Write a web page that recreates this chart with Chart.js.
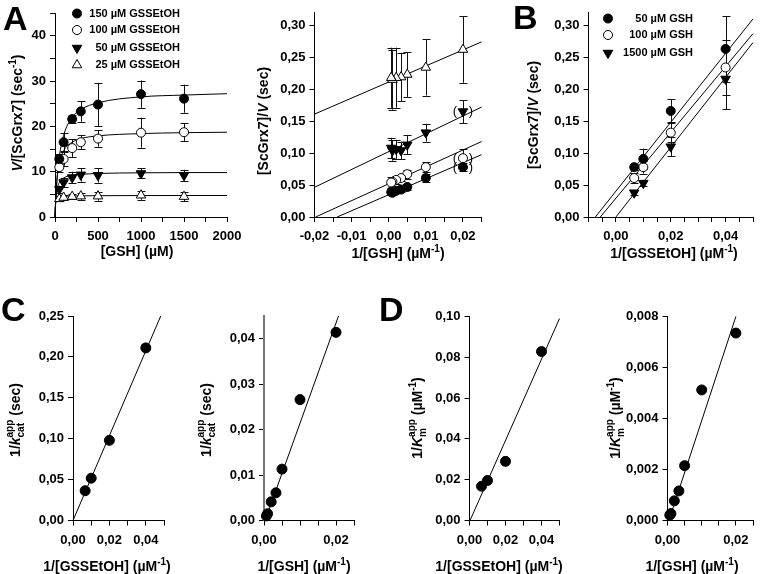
<!DOCTYPE html>
<html>
<head>
<meta charset="utf-8">
<script src="https://cdn.jsdelivr.net/npm/chart.js@4.4.1/dist/chart.umd.min.js"></script>
<style>
  html, body { margin: 0; padding: 0; background: #fff; }
  #wrap { position: relative; width: 760px; height: 574px; overflow: hidden; }
  #wrap canvas { position: absolute; left: 0; top: 0; }
</style>
</head>
<body>
<div id="wrap"></div>
<script>
// ---- panel A, left: rate vs [GSH] ----
const gshConc = [50, 100, 200, 300, 500, 1000, 1500];
const v150 = [12.8, 16.5, 21.6, 23.3, 24.8, 27.1, 26.1];
const v150Err = [1.0, 2.0, 0.8, 2.3, 4.8, 3.0, 3.1];
const v100 = [11.0, 12.8, 15.2, 16.5, 17.3, 18.6, 18.7];
const v100Err = [1.0, 1.5, 2.0, 1.5, 1.8, 3.3, 2.0];
const v50 = [6.1, 7.6, 8.7, 9.3, 9.2, 9.6, 9.2];
const v50Err = [0.8, 1.0, 1.3, 1.5, 1.6, 1.1, 1.2];
const v25 = [4.0, 4.3, 4.5, 4.6, 4.6, 4.8, 4.5];
const v25Err = [0.5, 0.5, 0.6, 0.8, 1.0, 1.0, 1.0];

// fitted curves
const curveX = [0, 5, 10, 25, 50, 100, 200, 300, 500, 1000, 1500, 2000];
const curve150 = [0, 2.3, 4.3, 8.8, 13.3, 18.0, 22.0, 23.7, 25.2, 26.5, 26.9, 27.2];
const curve100 = [0, 2.6, 4.7, 8.6, 11.9, 14.6, 16.5, 17.3, 17.9, 18.4, 18.6, 18.7];
const curve50 = [0, 2.5, 4.0, 6.2, 7.6, 8.6, 9.2, 9.4, 9.6, 9.75, 9.8, 9.8];
const curve25 = [0, 2.4, 3.2, 3.95, 4.3, 4.52, 4.63, 4.67, 4.7, 4.73, 4.74, 4.74];

// ---- panel A, right: double reciprocal vs 1/[GSH] ----
const invGsh = [0.02, 0.01, 0.005, 0.00333, 0.002, 0.001, 0.000667];
const lb150 = [0.078, 0.061, 0.047, 0.043, 0.041, 0.038, 0.039];
const lb150Err = [0.006, 0.006, 0.004, 0.004, 0.004, 0.004, 0.004];
const lb100 = [0.092, 0.078, 0.067, 0.061, 0.058, 0.055, 0.054];
const lb100Err = [0.014, 0.008, 0.007, 0.005, 0.006, 0.008, 0.008];
const lb50 = [0.165, 0.132, 0.113, 0.104, 0.106, 0.104, 0.108];
const lb50Err = [0.018, 0.014, 0.015, 0.014, 0.015, 0.016, 0.016];
const lb25 = [0.262, 0.234, 0.223, 0.219, 0.218, 0.215, 0.218];
const lb25Err = [0.052, 0.044, 0.035, 0.038, 0.047, 0.047, 0.047];
const lbFit150 = [[-0.0139, 0], [0.025, 0.0975]];
const lbFit100 = [[-0.0197, 0], [0.025, 0.118]];
const lbFit50 = [[-0.02, 0.0465], [0.025, 0.172]];
const lbFit25 = [[-0.02, 0.161], [0.025, 0.274]];

// ---- panel B: vs 1/[GSSEtOH] ----
const invGssetoh = [0.00667, 0.01, 0.02, 0.04];
const b50 = [0.078, 0.091, 0.166, 0.263];
const b50Err = [0.005, 0.016, 0.018, 0.051];
const b100 = [0.061, 0.078, 0.132, 0.234];
const b100Err = [0.008, 0.010, 0.015, 0.043];
const b1500 = [0.038, 0.053, 0.110, 0.216];
const b1500Err = [0.004, 0.005, 0.015, 0.047];
const bFit50 = [[-0.0075, 0], [0.05, 0.31]];
const bFit100 = [[-0.0057, 0], [0.05, 0.287]];
const bFit1500 = [[0, 0], [0.05, 0.273]];

// ---- panels C and D: secondary plots ----
const invGshAsc = [0.000667, 0.001, 0.002, 0.00333, 0.005, 0.01, 0.02];
const c1Y = [0.0364, 0.0517, 0.098, 0.211];
const c1Fit = [[0, 0], [0.0482, 0.25]];
const c2Y = [0.001, 0.0015, 0.0041, 0.0061, 0.0113, 0.0266, 0.0414];
const c2Fit = [[0.0003, 0], [0.0207, 0.045]];
const d1Y = [0.0168, 0.0196, 0.029, 0.0828];
const d1Fit = [[0.0003, 0], [0.05, 0.099]];
const d2Y = [0.00021, 0.00027, 0.00077, 0.00116, 0.00215, 0.00512, 0.00735];
const d2Fit = [[0.0004, 0], [0.02, 0.008]];

const FONT = '"Liberation Sans", Arial, Helvetica, sans-serif';
const TICK_SIZE = 13;
const TITLE_SIZE = 14;
const wrap = document.getElementById('wrap');

function isMult(v, m) {
    return Math.abs(v / m - Math.round(v / m)) < 1e-6;
}

function fmt(dec, every, nonNeg) {
    return function (v) {
        if (!isMult(v, every)) return '';
        if (nonNeg && v < -1e-9) return '';
        if (Math.abs(v) < 1e-12) v = 0;
        return v.toFixed(dec).replace('.', ',');
    };
}

function pts(xs, ys, style, r) {
    const hollow = style === 'open' || style === 'up';
    return {
        data: xs.map((x, i) => ({ x: x, y: ys[i] })),
        pointStyle: (style === 'down' || style === 'up') ? 'triangle' : 'circle',
        rotation: style === 'down' ? 180 : 0,
        pointRadius: r,
        pointBackgroundColor: hollow ? '#fff' : '#000',
        pointBorderColor: '#000',
        pointBorderWidth: 1,
        showLine: false,
        order: 1,
        clip: false
    };
}

function fit(pairs) {
    return {
        data: pairs.map(p => ({ x: p[0], y: p[1] })),
        showLine: true,
        pointRadius: 0,
        borderColor: '#000',
        borderWidth: 1,
        order: 2,
        clip: false
    };
}

function curve(xs, ys) {
    const ds = fit(xs.map((x, i) => [x, ys[i]]));
    ds.cubicInterpolationMode = 'monotone';
    return ds;
}

function errs(xs, ys, es) {
    return { xs: xs, ys: ys, es: es };
}

function font(size, italic, bold) {
    return (italic ? 'italic ' : '') + (bold === false ? '' : 'bold ') + size + 'px ' + FONT;
}

// text with sub/superscripts, centred on (cx, cy)
function drawRich(ctx, parts, cx, cy, size, vertical) {
    const small = Math.round(size * 0.7);
    ctx.save();
    ctx.translate(cx, cy);
    if (vertical) ctx.rotate(-Math.PI / 2);
    const widths = parts.map(p => {
        if (p.stack) {
            ctx.font = font(small);
            return Math.max(ctx.measureText(p.stack[0]).width, ctx.measureText(p.stack[1]).width);
        }
        ctx.font = p.s ? font(small, p.i) : font(size, p.i);
        return ctx.measureText(p.t).width;
    });
    const total = widths.reduce((a, b) => a + b, 0);
    let x = -total / 2;
    const base = size * 0.36;
    ctx.fillStyle = '#000';
    ctx.textAlign = 'left';
    ctx.textBaseline = 'alphabetic';
    parts.forEach((p, k) => {
        if (p.stack) {
            ctx.font = font(small);
            ctx.fillText(p.stack[0], x, base + size * 0.28);
            ctx.fillText(p.stack[1], x, base - size * 0.52);
        } else if (p.s === 'sup') {
            ctx.font = font(small, p.i);
            ctx.fillText(p.t, x, base - size * 0.45);
        } else if (p.s === 'sub') {
            ctx.font = font(small, p.i);
            ctx.fillText(p.t, x, base + size * 0.28);
        } else {
            ctx.font = font(size, p.i);
            ctx.fillText(p.t, x, base);
        }
        x += widths[k];
    });
    ctx.restore();
}

function legendMarker(ctx, style, x, y, r) {
    ctx.save();
    ctx.lineWidth = 1;
    ctx.strokeStyle = '#000';
    ctx.fillStyle = (style === 'open' || style === 'up') ? '#fff' : '#000';
    ctx.beginPath();
    if (style === 'filled' || style === 'open') {
        ctx.arc(x, y, r, 0, Math.PI * 2);
    } else {
        const s = style === 'down' ? -1 : 1;
        ctx.moveTo(x, y - s * r);
        ctx.lineTo(x + r * 0.866, y + s * r / 2);
        ctx.lineTo(x - r * 0.866, y + s * r / 2);
        ctx.closePath();
    }
    ctx.fill();
    ctx.stroke();
    ctx.restore();
}

let panelId = 0;

function extras(cfg) {
    panelId += 1;
    return {
        id: 'extras' + panelId,
        beforeDatasetsDraw(chart) {
            const ctx = chart.ctx;
            const xs = chart.scales.x, ys = chart.scales.y;
            ctx.save();
            ctx.strokeStyle = '#111';
            ctx.lineWidth = 1;
            (cfg.errors || []).forEach(e => {
                e.xs.forEach((xv, i) => {
                    const px = Math.round(xs.getPixelForValue(xv)) + 0.5;
                    const top = ys.getPixelForValue(e.ys[i] + e.es[i]);
                    const bot = ys.getPixelForValue(e.ys[i] - e.es[i]);
                    ctx.beginPath();
                    ctx.moveTo(px, top); ctx.lineTo(px, bot);
                    ctx.moveTo(px - 4, Math.round(top) + 0.5); ctx.lineTo(px + 4, Math.round(top) + 0.5);
                    ctx.moveTo(px - 4, Math.round(bot) + 0.5); ctx.lineTo(px + 4, Math.round(bot) + 0.5);
                    ctx.stroke();
                });
            });
            ctx.restore();
        },
        afterDraw(chart) {
            const ctx = chart.ctx;
            const xs = chart.scales.x, ys = chart.scales.y;
            ctx.save();
            (cfg.parens || []).forEach(p => {
                const px = xs.getPixelForValue(p[0]);
                const py = ys.getPixelForValue(p[1]);
                ctx.font = font(13, false, false);
                ctx.fillStyle = '#000';
                ctx.textAlign = 'center';
                ctx.textBaseline = 'middle';
                ctx.fillText('(', px - 8, py);
                ctx.fillText(')', px + 8, py);
            });
            (cfg.legend || []).forEach(l => {
                legendMarker(ctx, l.style, l.mx, l.y, l.r);
                ctx.font = font(11);
                ctx.fillStyle = '#000';
                ctx.textAlign = 'right';
                ctx.textBaseline = 'middle';
                ctx.fillText(l.text, l.tx, l.y);
            });
            (cfg.titles || []).forEach(t => drawRich(ctx, t.parts, t.x, t.y, TITLE_SIZE, t.vertical));
            if (cfg.letter) {
                ctx.font = font(34);
                ctx.fillStyle = '#000';
                ctx.textAlign = 'left';
                ctx.textBaseline = 'alphabetic';
                ctx.fillText(cfg.letter[0], cfg.letter[1], cfg.letter[2]);
            }
            ctx.restore();
        }
    };
}

function axis(min, max, step, label, extra) {
    return Object.assign({
        type: 'linear',
        min: min,
        max: max,
        ticks: {
            stepSize: step,
            autoSkip: false,
            includeBounds: false,
            maxTicksLimit: 200,
            maxRotation: 0,
            callback: label,
            color: '#000',
            font: { family: FONT, size: TICK_SIZE, weight: 'bold' }
        },
        grid: { drawOnChartArea: false, drawTicks: true, tickLength: 5, color: '#000', lineWidth: 1 },
        border: { display: true, color: '#000', width: 1 }
    }, extra || {});
}

function makePanel(cfg) {
    const canvas = document.createElement('canvas');
    canvas.width = 760;
    canvas.height = 574;
    wrap.appendChild(canvas);
    const a = cfg.area;
    const YW = 50, XH = 40;
    const x = cfg.x;
    const y = cfg.y;
    x.afterFit = s => { s.height = XH; };
    y.afterFit = s => { s.width = YW; };
    x.ticks.padding = 7;
    y.ticks.padding = 4;
    new Chart(canvas, {
        type: 'scatter',
        data: { datasets: cfg.datasets },
        options: {
            responsive: false,
            animation: false,
            devicePixelRatio: 1,
            events: [],
            layout: { padding: { left: a[0] - YW, top: a[1], right: 760 - a[2], bottom: 574 - a[3] - XH } },
            plugins: { legend: { display: false }, tooltip: { enabled: false } },
            scales: { x: x, y: y }
        },
        plugins: [extras(cfg)]
    });
}

const supM1 = [{ t: '(µM' }, { t: '-1', s: 'sup' }, { t: ')' }];

// A, left
makePanel({
    area: [55, 13, 227, 217],
    x: axis(0, 2000, 250, v => isMult(v, 500) ? String(v) : ''),
    y: axis(0, 45, 5, v => isMult(v, 10) ? String(v) : ''),
    datasets: [
        pts(gshConc, v150, 'filled', 4.5),
        pts(gshConc, v100, 'open', 4.5),
        pts(gshConc, v50, 'down', 5.5),
        pts(gshConc, v25, 'up', 5.5),
        curve(curveX, curve150),
        curve(curveX, curve100),
        curve(curveX, curve50),
        curve(curveX, curve25)
    ],
    errors: [
        errs(gshConc, v150, v150Err),
        errs(gshConc, v100, v100Err),
        errs(gshConc, v50, v50Err),
        errs(gshConc, v25, v25Err)
    ],
    legend: [
        { style: 'filled', text: '150 µM GSSEtOH', mx: 77, tx: 180, y: 13.5, r: 4.5 },
        { style: 'open', text: '100 µM GSSEtOH', mx: 77, tx: 180, y: 30, r: 4.5 },
        { style: 'down', text: '50 µM GSSEtOH', mx: 77, tx: 180, y: 48, r: 5.5 },
        { style: 'up', text: '25 µM GSSEtOH', mx: 77, tx: 180, y: 65, r: 5.5 }
    ],
    titles: [
        { x: 137, y: 251, parts: [{ t: '[GSH] (µM)' }] },
        { x: 17, y: 113, vertical: true, parts: [{ t: 'V', i: true }, { t: '/[ScGrx7] (sec' }, { t: '-1', s: 'sup' }, { t: ')' }] }
    ],
    letter: ['A', 3, 30]
});

// A, right
makePanel({
    area: [314.5, 12.5, 481.5, 217],
    x: axis(-0.02, 0.025, 0.005, fmt(2, 0.01)),
    y: axis(0, 0.32, 0.05, fmt(2, 0.05)),
    datasets: [
        pts(invGsh, lb150, 'filled', 4.5),
        pts(invGsh, lb100, 'open', 4.5),
        pts(invGsh, lb50, 'down', 5.5),
        pts(invGsh, lb25, 'up', 5.5),
        fit(lbFit150),
        fit(lbFit100),
        fit(lbFit50),
        fit(lbFit25)
    ],
    errors: [
        errs(invGsh, lb150, lb150Err),
        errs(invGsh, lb100, lb100Err),
        errs(invGsh, lb50, lb50Err),
        errs(invGsh, lb25, lb25Err)
    ],
    parens: [[invGsh[0], lb150[0]], [invGsh[0], lb100[0]], [invGsh[0], lb50[0]]],
    titles: [
        { x: 398, y: 253, parts: [{ t: '1/[GSH] ' }].concat(supM1) },
        { x: 263, y: 121, vertical: true, parts: [{ t: '[ScGrx7]/' }, { t: 'V', i: true }, { t: ' (sec)' }] }
    ]
});

// B
makePanel({
    area: [588.5, 12.5, 758, 217],
    x: axis(-0.01, 0.05, 0.005, fmt(2, 0.02, true)),
    y: axis(0, 0.32, 0.05, fmt(2, 0.05)),
    datasets: [
        pts(invGssetoh, b50, 'filled', 4.5),
        pts(invGssetoh, b100, 'open', 4.5),
        pts(invGssetoh, b1500, 'down', 5.5),
        fit(bFit50),
        fit(bFit100),
        fit(bFit1500)
    ],
    errors: [
        errs(invGssetoh, b50, b50Err),
        errs(invGssetoh, b100, b100Err),
        errs(invGssetoh, b1500, b1500Err)
    ],
    legend: [
        { style: 'filled', text: '50 µM GSH', mx: 608, tx: 693, y: 18.5, r: 4.5 },
        { style: 'open', text: '100 µM GSH', mx: 608, tx: 693, y: 35, r: 4.5 },
        { style: 'down', text: '1500 µM GSH', mx: 608, tx: 693, y: 53, r: 5.5 }
    ],
    titles: [
        { x: 674, y: 253, parts: [{ t: '1/[GSSEtOH] ' }].concat(supM1) },
        { x: 533, y: 115, vertical: true, parts: [{ t: '[ScGrx7]/' }, { t: 'V', i: true }, { t: ' (sec)' }] }
    ],
    letter: ['B', 513, 29]
});

const kcatTitle = [{ t: '1/' }, { t: 'k', i: true }, { stack: ['cat', 'app'] }, { t: ' (sec)' }];
const kmTitle = [{ t: '1/' }, { t: 'K', i: true }, { stack: ['m', 'app'] }, { t: ' ' }].concat(supM1);

// C, left
makePanel({
    area: [73, 316, 164, 520.5],
    x: axis(0, 0.05, 0.01, fmt(2, 0.02)),
    y: axis(0, 0.25, 0.05, fmt(2, 0.05)),
    datasets: [pts(invGssetoh, c1Y, 'filled', 5), fit(c1Fit)],
    titles: [
        { x: 107, y: 566, parts: [{ t: '1/[GSSEtOH] ' }].concat(supM1) },
        { x: 15, y: 420, vertical: true, parts: kcatTitle }
    ],
    letter: ['C', 1, 321]
});

// C, right
makePanel({
    area: [264, 316, 354, 520.5],
    x: axis(0, 0.025, 0.005, fmt(2, 0.02)),
    y: axis(0, 0.045, 0.01, fmt(2, 0.01), { border: { display: true, color: '#777', width: 2 } }),
    datasets: [pts(invGshAsc, c2Y, 'filled', 5), fit(c2Fit)],
    titles: [
        { x: 304, y: 566, parts: [{ t: '1/[GSH] ' }].concat(supM1) },
        { x: 206, y: 420, vertical: true, parts: kcatTitle }
    ]
});

// D, left
makePanel({
    area: [469.5, 316.5, 559.5, 520.5],
    x: axis(0, 0.05, 0.01, fmt(2, 0.02)),
    y: axis(0, 0.10, 0.02, fmt(2, 0.02)),
    datasets: [pts(invGssetoh, d1Y, 'filled', 5), fit(d1Fit)],
    titles: [
        { x: 499, y: 566, parts: [{ t: '1/[GSSEtOH] ' }].concat(supM1) },
        { x: 417, y: 418, vertical: true, parts: kmTitle }
    ],
    letter: ['D', 379, 321]
});

// D, right
makePanel({
    area: [667.5, 316.5, 759.5, 520.5],
    x: axis(0, 0.025, 0.005, fmt(2, 0.02)),
    y: axis(0, 0.008, 0.002, fmt(3, 0.002)),
    datasets: [pts(invGshAsc, d2Y, 'filled', 5), fit(d2Fit)],
    titles: [
        { x: 692, y: 566, parts: [{ t: '1/[GSH] ' }].concat(supM1) },
        { x: 615, y: 418, vertical: true, parts: kmTitle }
    ]
});
</script>
</body>
</html>
